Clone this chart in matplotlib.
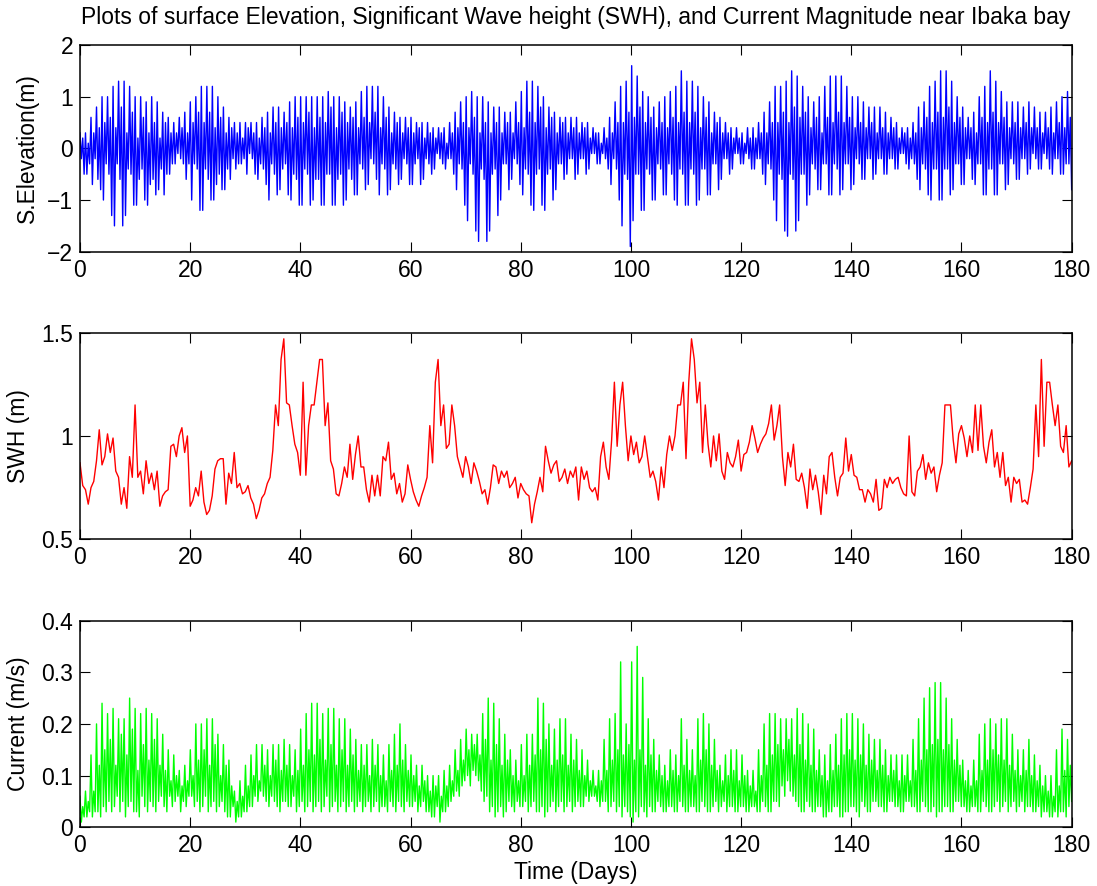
import numpy as np
import matplotlib
matplotlib.use("Agg")
from matplotlib import pyplot as plt

plt.rcParams['font.family'] = ['Liberation Sans', 'DejaVu Sans']

# surface elevation (m): tidal turning points, four per day (high, low, high, low)
elev = [
    0.3,-0.2,0.2,-0.5, 0.3,-0.5,0.1,-0.3, 0.6,-0.7,0.3,-0.2, 0.8,-0.6,0.4,-0.8, 1.0,-1.0,0.5,-0.3,
    1.0,-0.5,0.6,-1.3, 1.2,-1.5,0.4,-0.3, 1.3,-0.6,0.8,-1.5, 1.3,-1.3,0.3,-0.4, 1.2,-0.5,0.7,-1.1,
    1.0,-1.1,0.2,-0.6, 1.0,-0.4,0.6,-1.0, 0.9,-1.1,0.3,-0.7, 1.0,-0.6,0.5,-0.9, 0.9,-0.8,0.2,-0.4,
    0.7,-0.9,0.5,-0.5, 0.6,-0.5,0.3,-0.3, 0.5,-0.3,0.3,-0.1, 0.6,-0.2,0.4,-0.3, 0.7,-0.6,0.3,-0.3,
    0.9,-1.0,0.5,-0.3, 1.0,-0.4,0.7,-1.2, 1.2,-1.2,0.5,-0.4, 1.2,-0.6,0.7,-1.0, 1.2,-1.0,0.4,-0.7,
    1.0,-0.5,0.6,-0.8, 0.8,-0.8,0.3,-0.4, 0.6,-0.6,0.4,-0.2, 0.5,-0.4,0.3,-0.3, 0.5,-0.3,0.2,-0.2,
    0.5,-0.5,0.4,-0.1, 0.5,-0.2,0.3,-0.5, 0.5,-0.6,0.2,-0.3, 0.6,-0.4,0.4,-0.7, 0.7,-1.0,0.3,-0.3,
    0.8,-0.5,0.5,-0.9, 0.8,-0.8,0.4,-0.4, 0.7,-0.3,0.5,-0.9, 0.9,-1.0,0.4,-0.5, 1.0,-0.6,0.6,-1.1,
    1.0,-1.1,0.5,-0.4, 1.0,-0.5,0.7,-1.1, 1.0,-1.0,0.4,-0.6, 1.0,-0.6,0.6,-1.1, 1.0,-1.1,0.5,-0.5,
    1.1,-0.5,0.8,-1.1, 1.0,-1.1,0.4,-0.6, 1.0,-0.5,0.7,-1.1, 0.9,-1.0,0.5,-0.4, 0.8,-0.6,0.6,-0.9,
    0.9,-0.9,0.4,-0.3, 1.1,-0.4,0.6,-0.8, 1.2,-0.7,0.5,-0.2, 1.2,-0.3,0.7,-0.6, 1.2,-0.9,0.4,-0.3,
    1.0,-0.4,0.6,-0.9, 0.8,-0.8,0.3,-0.3, 0.7,-0.4,0.5,-0.7, 0.6,-0.6,0.3,-0.2, 0.6,-0.3,0.4,-0.7,
    0.6,-0.7,0.3,-0.3, 0.5,-0.2,0.4,-0.7, 0.5,-0.6,0.2,-0.2, 0.5,-0.3,0.3,-0.5, 0.4,-0.4,0.2,-0.1,
    0.4,-0.2,0.3,-0.3, 0.4,-0.4,0.1,-0.2, 0.5,-0.2,0.3,-0.5, 0.7,-0.8,0.4,-0.3, 0.9,-0.4,0.5,-1.1,
    1.0,-1.4,0.4,-0.3, 1.1,-0.5,0.6,-1.6, 1.0,-1.8,0.3,-0.4, 1.0,-0.6,0.5,-1.8, 0.9,-1.6,0.3,-0.5,
    0.8,-0.4,0.5,-1.3, 0.8,-1.0,0.3,-0.3, 0.7,-0.3,0.5,-0.8, 0.7,-0.6,0.3,-0.2, 0.9,-0.3,0.5,-0.7,
    1.1,-0.9,0.4,-0.4, 1.3,-0.5,0.7,-1.1, 1.3,-1.2,0.5,-0.5, 1.2,-0.4,0.8,-1.1, 1.0,-1.2,0.4,-0.5,
    0.8,-0.4,0.6,-1.0, 0.7,-0.8,0.3,-0.3, 0.6,-0.3,0.5,-0.6, 0.6,-0.5,0.3,-0.2, 0.6,-0.2,0.4,-0.6,
    0.6,-0.5,0.3,-0.2, 0.5,-0.2,0.4,-0.5, 0.5,-0.4,0.2,-0.1, 0.4,-0.1,0.3,-0.3, 0.3,-0.3,0.1,-0.1,
    0.4,-0.2,0.2,-0.4, 0.6,-0.7,0.3,-0.2, 0.9,-0.4,0.5,-1.0, 1.2,-1.5,0.5,-0.5, 1.3,-0.6,0.7,-1.9,
    1.6,-1.4,0.6,-0.5, 1.4,-0.5,0.8,-1.2, 1.1,-1.2,0.5,-0.4, 1.0,-0.5,0.6,-1.0, 0.8,-1.0,0.4,-0.3,
    0.9,-0.4,0.5,-0.9, 1.0,-0.9,0.4,-0.3, 1.1,-0.5,0.6,-1.0, 1.2,-1.1,0.5,-0.4, 1.5,-0.5,0.7,-1.1,
    1.3,-1.1,0.5,-0.4, 1.3,-0.5,0.7,-1.1, 1.2,-1.0,0.4,-0.4, 1.0,-0.4,0.6,-0.9, 0.9,-0.9,0.3,-0.3,
    0.7,-0.3,0.5,-0.8, 0.6,-0.6,0.3,-0.2, 0.5,-0.2,0.3,-0.5, 0.4,-0.4,0.2,-0.1, 0.4,-0.1,0.2,-0.3,
    0.3,-0.3,0.1,-0.1, 0.4,-0.2,0.2,-0.4, 0.4,-0.4,0.2,-0.2, 0.5,-0.2,0.3,-0.5, 0.7,-0.7,0.3,-0.3,
    0.9,-0.4,0.5,-1.0, 1.2,-1.4,0.5,-0.5, 1.2,-0.6,0.7,-1.6, 1.3,-1.7,0.5,-0.5, 1.5,-0.6,0.8,-1.6,
    1.4,-1.4,0.6,-0.5, 1.2,-0.5,0.7,-1.1, 1.0,-0.9,0.4,-0.3, 0.9,-0.4,0.6,-0.8, 1.0,-0.8,0.3,-0.3,
    1.2,-0.3,0.6,-0.9, 1.4,-0.9,0.5,-0.3, 1.4,-0.4,0.7,-0.9, 1.4,-0.8,0.5,-0.3, 1.2,-0.3,0.6,-0.8,
    1.0,-0.7,0.4,-0.2, 1.0,-0.3,0.5,-0.6, 0.9,-0.6,0.4,-0.2, 0.8,-0.2,0.5,-0.6, 0.8,-0.5,0.3,-0.2,
    0.8,-0.2,0.4,-0.5, 0.7,-0.5,0.3,-0.2, 0.6,-0.2,0.4,-0.4, 0.5,-0.4,0.2,-0.1, 0.4,-0.1,0.3,-0.3,
    0.4,-0.4,0.2,-0.2, 0.5,-0.3,0.3,-0.6, 0.8,-0.8,0.4,-0.3, 0.9,-0.4,0.6,-0.9, 1.2,-1.0,0.5,-0.4,
    1.3,-0.4,0.7,-1.0, 1.5,-1.0,0.6,-0.4, 1.5,-0.4,0.8,-0.9, 1.3,-0.8,0.5,-0.3, 1.0,-0.3,0.6,-0.7,
    0.8,-0.7,0.4,-0.2, 0.6,-0.2,0.4,-0.6, 0.7,-0.7,0.3,-0.3, 1.0,-0.3,0.6,-0.9, 1.2,-0.9,0.5,-0.4,
    1.5,-0.4,0.7,-0.9, 1.3,-0.9,0.5,-0.3, 1.1,-0.3,0.6,-0.8, 0.9,-0.7,0.4,-0.2, 0.9,-0.3,0.5,-0.6,
    0.9,-0.6,0.4,-0.2, 0.8,-0.2,0.5,-0.5, 0.9,-0.4,0.4,-0.1, 0.8,-0.2,0.4,-0.4, 0.7,-0.4,0.3,-0.1,
    0.7,-0.2,0.4,-0.4, 0.8,-0.5,0.3,-0.2, 0.9,-0.2,0.5,-0.5, 1.0,-0.5,0.4,-0.3, 1.1,-0.3,0.6,-0.8,
]

# significant wave height (m), every half day
swh = [
    0.87,0.76,0.74,0.67,0.75,0.78,0.88,1.03,0.86,0.90,1.01,0.92,0.99,0.83,0.80,0.67,0.75,0.65,0.90,0.80,
    1.15,0.80,0.83,0.72,0.88,0.77,0.82,0.74,0.83,0.66,0.71,0.73,0.74,0.95,0.96,0.90,1.00,1.04,0.92,1.00,
    0.66,0.69,0.75,0.71,0.83,0.68,0.62,0.64,0.71,0.84,0.88,0.89,0.89,0.67,0.82,0.77,0.92,0.75,0.77,0.72,
    0.73,0.76,0.70,0.67,0.60,0.64,0.70,0.72,0.77,0.80,0.93,1.15,1.05,1.37,1.47,1.16,1.15,1.05,0.96,0.92,
    0.81,1.26,0.81,1.05,1.15,1.15,1.26,1.37,1.37,1.05,1.16,0.88,0.84,0.72,0.71,0.77,0.85,0.80,0.96,0.79,
    0.91,1.00,0.85,0.85,0.74,0.68,0.81,0.71,0.81,0.71,0.90,0.88,0.97,0.79,0.82,0.72,0.77,0.68,0.72,0.86,
    0.79,0.73,0.69,0.66,0.71,0.75,0.80,1.05,0.87,1.26,1.37,1.05,1.15,0.94,0.96,1.15,1.05,0.90,0.85,0.80,
    0.90,0.85,0.77,0.87,0.83,0.78,0.72,0.74,0.67,0.75,0.86,0.85,0.77,0.83,0.80,0.83,0.75,0.77,0.80,0.70,
    0.77,0.74,0.72,0.71,0.58,0.67,0.73,0.80,0.73,0.95,0.88,0.82,0.86,0.88,0.78,0.80,0.84,0.77,0.83,0.80,
    0.85,0.69,0.85,0.79,0.83,0.75,0.73,0.75,0.69,0.90,0.97,0.85,0.79,0.98,1.26,0.95,1.15,1.26,1.05,0.88,
    1.00,0.91,0.97,0.87,0.90,1.00,0.90,0.80,0.83,0.78,0.69,0.85,0.75,0.91,1.00,0.93,1.00,1.15,1.15,1.26,
    0.89,1.26,1.47,1.37,1.16,1.26,0.92,1.15,0.96,0.85,1.00,0.88,1.01,0.83,0.79,0.92,0.87,0.85,0.90,0.98,
    0.83,0.91,0.92,0.97,1.05,0.99,0.92,0.96,0.99,1.01,1.06,1.15,0.98,1.05,1.15,0.90,0.76,0.92,0.85,0.96,
    0.79,0.78,0.82,0.75,0.65,0.84,0.74,0.81,0.73,0.62,0.81,0.72,0.90,0.92,0.80,0.71,0.80,0.82,0.99,0.83,
    0.91,0.81,0.80,0.74,0.74,0.68,0.74,0.72,0.68,0.79,0.64,0.65,0.79,0.75,0.80,0.77,0.79,0.80,0.75,0.72,
    0.71,1.00,0.73,0.71,0.83,0.85,0.91,0.79,0.87,0.82,0.85,0.73,0.81,0.87,1.15,1.15,1.15,0.98,0.87,1.01,
    1.05,0.99,0.90,1.00,0.92,1.15,0.93,1.15,0.95,0.87,0.97,1.03,0.85,0.92,0.80,0.92,0.76,0.80,0.68,0.80,
    0.77,0.79,0.68,0.69,0.67,0.75,0.84,1.15,0.90,1.37,0.95,1.26,1.26,1.15,1.05,1.15,0.95,0.92,1.05,0.85,
    0.88,
]

# current magnitude (m/s): turning points, four per day (peak, trough, peak, trough)
current = [
    0.06,0.01,0.04,0.02, 0.07,0.02,0.05,0.03, 0.14,0.02,0.07,0.03, 0.20,0.03,0.12,0.02, 0.24,0.04,0.15,0.03,
    0.22,0.05,0.17,0.03, 0.23,0.04,0.12,0.06, 0.21,0.03,0.18,0.05, 0.21,0.02,0.14,0.04, 0.25,0.05,0.19,0.03,
    0.23,0.03,0.11,0.02, 0.22,0.06,0.16,0.04, 0.23,0.03,0.13,0.05, 0.22,0.04,0.17,0.03, 0.21,0.05,0.12,0.06,
    0.18,0.04,0.11,0.03, 0.15,0.06,0.09,0.04, 0.14,0.05,0.10,0.06, 0.11,0.03,0.08,0.05, 0.12,0.04,0.09,0.06,
    0.15,0.06,0.10,0.04, 0.20,0.05,0.13,0.03, 0.20,0.04,0.15,0.06, 0.21,0.03,0.12,0.04, 0.21,0.05,0.16,0.03,
    0.18,0.04,0.10,0.05, 0.16,0.03,0.12,0.02, 0.13,0.02,0.08,0.04, 0.07,0.01,0.05,0.02, 0.09,0.02,0.06,0.03,
    0.12,0.03,0.08,0.04, 0.14,0.04,0.10,0.06, 0.16,0.05,0.09,0.07, 0.16,0.06,0.12,0.05, 0.15,0.04,0.10,0.06,
    0.16,0.05,0.13,0.04, 0.16,0.03,0.11,0.05, 0.17,0.05,0.12,0.04, 0.16,0.04,0.10,0.06, 0.15,0.03,0.11,0.04,
    0.19,0.05,0.12,0.03, 0.22,0.04,0.15,0.05, 0.24,0.03,0.14,0.04, 0.24,0.05,0.17,0.03, 0.22,0.04,0.13,0.06,
    0.23,0.03,0.16,0.04, 0.23,0.05,0.12,0.03, 0.21,0.04,0.15,0.05, 0.21,0.03,0.12,0.04, 0.19,0.05,0.14,0.03,
    0.17,0.04,0.11,0.05, 0.16,0.03,0.12,0.04, 0.16,0.05,0.10,0.03, 0.17,0.04,0.12,0.05, 0.16,0.03,0.10,0.04,
    0.14,0.04,0.09,0.03, 0.16,0.05,0.11,0.04, 0.18,0.03,0.12,0.05, 0.20,0.04,0.13,0.03, 0.16,0.05,0.11,0.04,
    0.14,0.04,0.10,0.05, 0.12,0.03,0.08,0.04, 0.12,0.05,0.09,0.03, 0.10,0.03,0.07,0.02, 0.10,0.02,0.08,0.04,
    0.10,0.01,0.06,0.03, 0.11,0.03,0.08,0.04, 0.12,0.05,0.09,0.06, 0.15,0.07,0.11,0.06, 0.17,0.08,0.13,0.09,
    0.19,0.10,0.15,0.08, 0.18,0.11,0.16,0.10, 0.18,0.09,0.14,0.07, 0.22,0.05,0.17,0.06, 0.25,0.03,0.13,0.04,
    0.24,0.02,0.16,0.03, 0.21,0.04,0.12,0.02, 0.18,0.03,0.13,0.05, 0.15,0.04,0.10,0.03, 0.13,0.05,0.09,0.04,
    0.16,0.04,0.10,0.05, 0.18,0.03,0.12,0.04, 0.18,0.05,0.14,0.03, 0.25,0.03,0.15,0.04, 0.24,0.02,0.17,0.03,
    0.20,0.04,0.12,0.05, 0.19,0.03,0.13,0.04, 0.21,0.05,0.14,0.03, 0.21,0.04,0.12,0.05, 0.18,0.03,0.13,0.04,
    0.17,0.05,0.11,0.04, 0.15,0.04,0.10,0.06, 0.13,0.05,0.09,0.06, 0.11,0.06,0.08,0.05, 0.11,0.04,0.09,0.05,
    0.17,0.05,0.11,0.03, 0.21,0.04,0.13,0.05, 0.22,0.03,0.15,0.04, 0.32,0.02,0.14,0.04, 0.20,0.03,0.16,0.02,
    0.32,0.01,0.13,0.03, 0.35,0.02,0.15,0.04, 0.29,0.03,0.12,0.02, 0.21,0.04,0.14,0.03, 0.17,0.03,0.11,0.05,
    0.14,0.04,0.10,0.03, 0.12,0.03,0.09,0.04, 0.15,0.04,0.11,0.03, 0.14,0.03,0.10,0.05, 0.21,0.04,0.12,0.03,
    0.17,0.03,0.11,0.04, 0.15,0.04,0.10,0.03, 0.21,0.03,0.13,0.05, 0.22,0.04,0.15,0.03, 0.20,0.03,0.12,0.04,
    0.17,0.05,0.11,0.03, 0.12,0.04,0.09,0.05, 0.14,0.03,0.10,0.04, 0.15,0.04,0.11,0.03, 0.15,0.03,0.09,0.04,
    0.14,0.04,0.10,0.03, 0.11,0.03,0.08,0.04, 0.11,0.04,0.07,0.03, 0.15,0.03,0.10,0.05, 0.20,0.04,0.12,0.03,
    0.22,0.03,0.14,0.05, 0.22,0.05,0.16,0.04, 0.21,0.08,0.15,0.06, 0.21,0.09,0.17,0.07, 0.21,0.06,0.14,0.05,
    0.23,0.04,0.16,0.03, 0.22,0.03,0.13,0.05, 0.20,0.04,0.12,0.03, 0.19,0.03,0.11,0.04, 0.15,0.04,0.10,0.02,
    0.14,0.02,0.09,0.03, 0.16,0.03,0.11,0.04, 0.18,0.04,0.12,0.02, 0.21,0.02,0.14,0.03, 0.22,0.03,0.15,0.04,
    0.22,0.04,0.13,0.03, 0.21,0.02,0.14,0.05, 0.20,0.04,0.12,0.03, 0.18,0.03,0.13,0.05, 0.17,0.05,0.11,0.04,
    0.17,0.04,0.12,0.03, 0.15,0.03,0.10,0.05, 0.14,0.05,0.11,0.04, 0.14,0.04,0.09,0.03, 0.14,0.03,0.10,0.05,
    0.14,0.05,0.09,0.04, 0.17,0.04,0.11,0.03, 0.21,0.03,0.13,0.05, 0.25,0.04,0.15,0.03, 0.27,0.03,0.16,0.04,
    0.28,0.02,0.17,0.03, 0.28,0.03,0.15,0.04, 0.25,0.04,0.16,0.03, 0.21,0.03,0.13,0.05, 0.17,0.05,0.12,0.04,
    0.13,0.04,0.09,0.03, 0.11,0.03,0.08,0.04, 0.13,0.04,0.09,0.03, 0.18,0.03,0.11,0.05, 0.20,0.04,0.13,0.03,
    0.21,0.03,0.15,0.04, 0.20,0.05,0.14,0.03, 0.21,0.04,0.13,0.05, 0.21,0.03,0.12,0.04, 0.18,0.05,0.11,0.03,
    0.15,0.04,0.10,0.05, 0.15,0.03,0.11,0.04, 0.17,0.04,0.10,0.03, 0.14,0.03,0.09,0.04, 0.12,0.02,0.08,0.03,
    0.10,0.03,0.07,0.02, 0.10,0.02,0.06,0.03, 0.15,0.02,0.08,0.03, 0.19,0.03,0.11,0.02, 0.17,0.04,0.12,0.05,
]

days_max = 180
xticks = list(range(0, 181, 20))
elev_yticks = [-2, -1, 0, 1, 2]
swh_yticks = [0.5, 1, 1.5]
cur_yticks = [0, 0.1, 0.2, 0.3, 0.4]

t_elev = np.linspace(0, days_max, len(elev))
t_swh = np.linspace(0, days_max, len(swh))
t_cur = np.linspace(0, days_max, len(current))

FS = 16.5


def fmt(v, pos):
    return '{:g}'.format(v).replace('-', '\u2212')


def style_axes(ax, ylim, yticks):
    ax.set_xlim(0, days_max)
    ax.set_ylim(*ylim)
    ax.set_xticks(xticks)
    ax.set_yticks(yticks)
    ax.yaxis.set_major_formatter(fmt)
    ax.tick_params(direction='in', top=True, right=True, length=7, width=0.8,
                   labelsize=FS, pad=5)
    for s in ax.spines.values():
        s.set_linewidth(1.1)


fig = plt.figure(figsize=(10.97, 8.86), dpi=100)
left, width, height = 0.0729, 0.904, 0.2333
ax1 = fig.add_axes([left, 0.7159, width, height])
ax2 = fig.add_axes([left, 0.3913, width, height])
ax3 = fig.add_axes([left, 0.0663, width, height])

ax1.plot(t_elev, elev, color=(0, 0, 1), lw=1.0)
style_axes(ax1, (-2, 2), elev_yticks)
ax1.set_ylabel("S.Elevation(m)", fontsize=FS, labelpad=6)
ax1.set_title("Plots of surface Elevation, Significant Wave height (SWH), and Current Magnitude near Ibaka bay",
              fontsize=FS, pad=15)

ax2.plot(t_swh, swh, color=(1, 0, 0), lw=1.0)
style_axes(ax2, (0.5, 1.5), swh_yticks)
ax2.set_ylabel("SWH (m)", fontsize=FS, labelpad=8)

ax3.plot(t_cur, current, color=(0, 1, 0), lw=1.0)
style_axes(ax3, (0, 0.4), cur_yticks)
ax3.set_ylabel("Current (m/s)", fontsize=FS, labelpad=8)
ax3.set_xlabel("Time (Days)", fontsize=FS, labelpad=3)

plt.savefig("out.png", dpi=100)
plt.close()
